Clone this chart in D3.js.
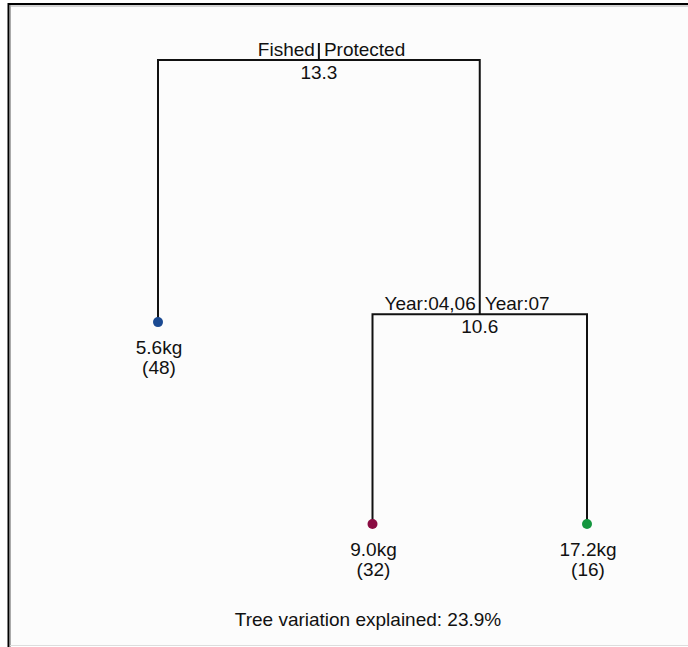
<!DOCTYPE html>
<html>
<head>
<meta charset="utf-8">
<script src="https://cdn.jsdelivr.net/npm/d3@7"></script>
<style>
html,body{margin:0;padding:0;background:#ffffff;}
svg{display:block;}
text{font-family:"Liberation Sans",Arial,sans-serif;fill:#111;}
</style>
</head>
<body>
<div id="chart"></div>
<script>
// ---- data ----
const leafNames   = ["Fished", "Year:04,06", "Year:07"];
const leafMeans   = [5.6, 9.0, 17.2];          // kg
const leafCounts  = [48, 32, 16];
const leafHeights = [0.865, 0.761, 0.761];     // relative error level of each leaf
const leafColors  = ["#1b4a92", "#8a0c42", "#14963f"];
const splitLeft   = ["Fished", "Year:04,06"];
const splitRight  = ["Protected", "Year:07"];
const splitDev    = [13.3, 10.6];
const splitHeights= [1.0, 0.869];
const explained   = 23.9;

const W = 688, H = 647;
const FS = 19;
const svg = d3.select("#chart").append("svg").attr("width", W).attr("height", H);

// panel
svg.append("rect").attr("x", 9).attr("y", 4).attr("width", W).attr("height", 641).attr("fill", "#fcfcfc");
svg.append("line").attr("x1", 8.5).attr("x2", 8.5).attr("y1", 3).attr("y2", H).attr("stroke", "#000").attr("stroke-width", 2);
svg.append("line").attr("x1", 10.5).attr("x2", 10.5).attr("y1", 5).attr("y2", H).attr("stroke", "#aaa").attr("stroke-width", 1);
svg.append("line").attr("x1", 8).attr("x2", W).attr("y1", 4).attr("y2", 4).attr("stroke", "#000").attr("stroke-width", 2);
svg.append("line").attr("x1", 10).attr("x2", W).attr("y1", 6).attr("y2", 6).attr("stroke", "#aaa").attr("stroke-width", 1);
svg.append("line").attr("x1", 10).attr("x2", W).attr("y1", 645.5).attr("y2", 645.5).attr("stroke", "#ddd").attr("stroke-width", 1);

// scales
const x = d3.scaleLinear().domain([0, 2]).range([158, 587]);
const y = d3.scaleLinear().domain([1.0, 0.761]).range([60, 524]);

// node positions
const leafX = leafMeans.map((d, i) => x(i));
const split2X = (leafX[1] + leafX[2]) / 2;
const rootX = (leafX[0] + split2X) / 2;
const splitX = [rootX, split2X];
const childX = [[leafX[0], split2X], [leafX[1], leafX[2]]];
const childY = [[y(leafHeights[0]), y(splitHeights[1])], [y(leafHeights[1]), y(leafHeights[2])]];

const g = svg.append("g");
const lineStyle = sel => sel.attr("fill", "none").attr("stroke", "#111").attr("stroke-width", 2);

// root stub
g.append("line").attr("x1", rootX).attr("x2", rootX).attr("y1", y(splitHeights[0]) - 17).attr("y2", y(splitHeights[0])).call(lineStyle);

splitHeights.forEach((h, i) => {
  const sy = y(h);
  const [lx, rx] = childX[i];
  const [ly, ry] = childY[i];
  g.append("path").attr("d", `M${lx},${ly}V${sy}H${rx}V${ry}`).call(lineStyle);
  g.append("text").attr("x", splitX[i] - 4).attr("y", sy - 4).attr("text-anchor", "end").attr("font-size", FS).text(splitLeft[i]);
  g.append("text").attr("x", splitX[i] + 5).attr("y", sy - 4).attr("text-anchor", "start").attr("font-size", FS).text(splitRight[i]);
  g.append("text").attr("x", splitX[i]).attr("y", sy + 19).attr("text-anchor", "middle").attr("font-size", FS).text(splitDev[i].toFixed(1));
});

leafMeans.forEach((m, i) => {
  const lx = leafX[i], ly = y(leafHeights[i]);
  g.append("circle").attr("cx", lx).attr("cy", ly).attr("r", 5).attr("fill", leafColors[i]);
  g.append("text").attr("x", lx + 1).attr("y", ly + 32).attr("text-anchor", "middle").attr("font-size", FS).text(m.toFixed(1) + "kg");
  g.append("text").attr("x", lx + 1).attr("y", ly + 52).attr("text-anchor", "middle").attr("font-size", FS).text("(" + leafCounts[i] + ")");
});

svg.append("text").attr("x", 368).attr("y", 626).attr("text-anchor", "middle").attr("font-size", FS)
  .text("Tree variation explained: " + explained.toFixed(1) + "%");
</script>
</body>
</html>
